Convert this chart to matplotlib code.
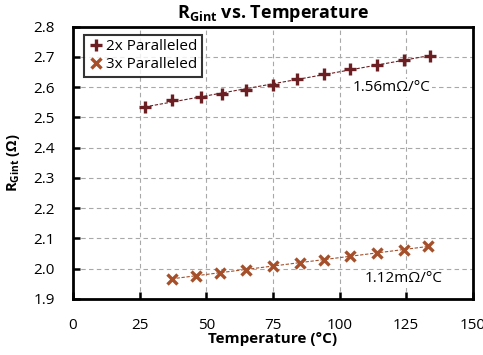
import numpy as np
import matplotlib
matplotlib.use("Agg")
import matplotlib.pyplot as plt

plt.rcParams["font.family"] = ["Open Sans", "DejaVu Sans"]
plt.rcParams["mathtext.fontset"] = "custom"
plt.rcParams["mathtext.rm"] = "Open Sans"
plt.rcParams["mathtext.bf"] = "Open Sans:bold"

temp_2x = [27, 37, 48, 56, 65, 75, 84, 94, 104, 114, 124, 134]
r_2x = [2.535, 2.557, 2.566, 2.578, 2.592, 2.607, 2.626, 2.643, 2.659, 2.672, 2.691, 2.704]

temp_3x = [37, 46, 55, 65, 75, 85, 94, 104, 114, 124, 133]
r_3x = [1.967, 1.976, 1.987, 1.997, 2.009, 2.019, 2.029, 2.041, 2.052, 2.063, 2.074]

labels = ["2x Paralleled", "3x Paralleled"]
slopes = ["1.56m\u03a9/\u00b0C", "1.12m\u03a9/\u00b0C"]
c2 = "#6b1f22"
c3 = "#a5502a"

fig = plt.figure(figsize=(4.83, 3.55), dpi=100)
ax = fig.add_axes([0.151, 0.158, 0.828, 0.767])

# trend lines
for t, r, c in [(temp_2x, r_2x, c2), (temp_3x, r_3x, c3)]:
    k, b = np.polyfit(t, r, 1)
    xs = np.array([t[0], t[-1]])
    ax.plot(xs, k * xs + b, color=c, linestyle="--", linewidth=0.8, dashes=(3, 1.5), zorder=2)

ax.plot(temp_2x, r_2x, linestyle="none", marker="+", markersize=8, color=c2,
        markeredgewidth=2.4, label=labels[0], zorder=3)
ax.plot(temp_3x, r_3x, linestyle="none", marker="x", markersize=7, color=c3,
        markeredgewidth=2.4, label=labels[1], zorder=3)

ax.set_xlim(0, 150)
ax.set_ylim(1.9, 2.8)
ax.set_xticks(range(0, 151, 25))
ax.set_yticks(np.arange(1.9, 2.81, 0.1))
ax.set_yticklabels([f"{v:.1f}" for v in np.arange(1.9, 2.81, 0.1)])
ax.tick_params(axis="both", direction="in", length=5, width=1.8, labelsize=11, colors="black")
ax.tick_params(axis="y", pad=13)
ax.tick_params(axis="x", pad=14)
for s in ax.spines.values():
    s.set_linewidth(2)
ax.grid(True, color="#a8a8a8", linestyle="--", linewidth=0.8, dashes=(4, 3))
ax.set_axisbelow(True)

ax.set_title(r"$\mathbf{R_{Gint}}$ vs. Temperature", fontsize=13, fontweight="bold", pad=6)
ax.set_xlabel("Temperature (\u00b0C)", fontsize=11, fontweight="bold", labelpad=-1)
ax.set_ylabel(r"$\mathbf{R_{Gint}}$ ($\mathbf{\Omega}$)", fontsize=10.5, fontweight="bold", labelpad=8)

ax.text(119.5, 2.598, slopes[0], fontsize=11, ha="center", va="center",
        bbox=dict(facecolor="white", edgecolor="none", pad=1), zorder=2.5)
ax.text(124, 1.967, slopes[1], fontsize=11, ha="center", va="center",
        bbox=dict(facecolor="white", edgecolor="none", pad=1), zorder=2.5)

leg = ax.legend(loc="upper left", bbox_to_anchor=(0.027, 0.97), fontsize=11, frameon=True,
                fancybox=False, edgecolor="black", handletextpad=0.15, handlelength=1.0,
                borderpad=0.3, labelspacing=0.2, borderaxespad=0)
leg.get_frame().set_linewidth(1.5)

fig.savefig("out.png", dpi=100)
